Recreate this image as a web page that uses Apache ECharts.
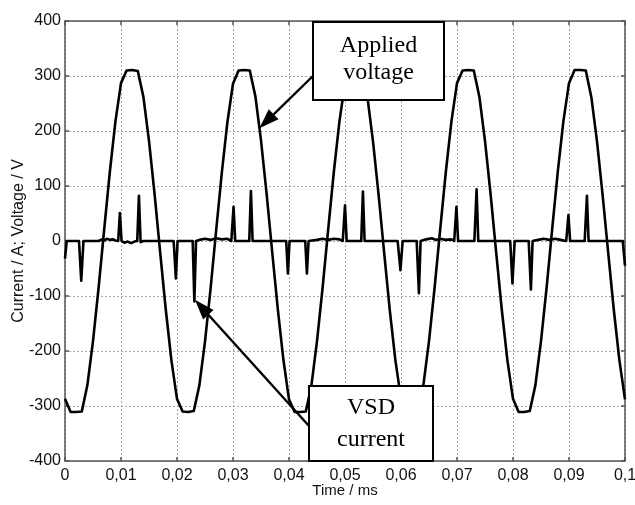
<!DOCTYPE html>
<html>
<head>
<meta charset="utf-8">
<script src="https://cdn.jsdelivr.net/npm/echarts@6/dist/echarts.min.js"></script>
<style>
  html, body { margin: 0; padding: 0; background: #fff; }
  #chart { width: 635px; height: 505px; }
</style>
</head>
<body>
<div id="chart"></div>
<script>
// Applied supply voltage, sampled every 0.001 ms
const voltTime = [
  0.000, 0.001, 0.002, 0.003, 0.004, 0.005, 0.006, 0.007, 0.008, 0.009,
  0.010, 0.011, 0.012, 0.013, 0.014, 0.015, 0.016, 0.017, 0.018, 0.019,
  0.020, 0.021, 0.022, 0.023, 0.024, 0.025, 0.026, 0.027, 0.028, 0.029,
  0.030, 0.031, 0.032, 0.033, 0.034, 0.035, 0.036, 0.037, 0.038, 0.039,
  0.040, 0.041, 0.042, 0.043, 0.044, 0.045, 0.046, 0.047, 0.048, 0.049,
  0.050, 0.051, 0.052, 0.053, 0.054, 0.055, 0.056, 0.057, 0.058, 0.059,
  0.060, 0.061, 0.062, 0.063, 0.064, 0.065, 0.066, 0.067, 0.068, 0.069,
  0.070, 0.071, 0.072, 0.073, 0.074, 0.075, 0.076, 0.077, 0.078, 0.079,
  0.080, 0.081, 0.082, 0.083, 0.084, 0.085, 0.086, 0.087, 0.088, 0.089,
  0.090, 0.091, 0.092, 0.093, 0.094, 0.095, 0.096, 0.097, 0.098, 0.099,
  0.100
];
const voltValue = [
  -287, -311, -311, -310, -262, -182, -85, 21, 125, 217,
   287,  310,  311,  309,  262,  182,  85, -21, -125, -217,
  -287, -310, -311, -309, -262, -183, -86, 20, 124, 216,
   286,  310,  311,  310,  263,  183,  86, -20, -124, -216,
  -288, -311, -311, -310, -263, -182, -85, 21, 125, 217,
   287,  311,  311,  309,  262,  181,  84, -22, -126, -217,
  -287, -310, -311, -310, -262, -182, -85, 21, 125, 217,
   287,  310,  311,  310,  262,  182,  85, -21, -125, -217,
  -287, -311, -311, -309, -262, -182, -85, 22, 126, 218,
   287,  311,  311,  310,  261,  181,  84, -21, -125, -217,
  -288
];

// Drive (VSD) input current with its charging pulses
const currTime = [
  0.0000, 0.0003,
  0.0025, 0.0029, 0.0033,
  0.0060, 0.0066, 0.0070, 0.0075, 0.0080, 0.0086, 0.0090,
  0.0095, 0.0098, 0.0101,
  0.0106, 0.0112, 0.0118, 0.0124, 0.0129,
  0.0132, 0.0135, 0.0140,
  0.0194, 0.0198, 0.0201,
  0.0228, 0.0231, 0.0234,
  0.0240, 0.0250, 0.0260, 0.0270, 0.0280, 0.0290, 0.0297,
  0.0301, 0.0304,
  0.0329, 0.0332, 0.0335,
  0.0395, 0.0398, 0.0401,
  0.0429, 0.0432, 0.0435,
  0.0450, 0.0460, 0.0470, 0.0480, 0.0490, 0.0496,
  0.0500, 0.0503,
  0.0529, 0.0532, 0.0535,
  0.0594, 0.0599, 0.0603,
  0.0628, 0.0632, 0.0635,
  0.0645, 0.0655, 0.0662, 0.0670, 0.0680, 0.0690, 0.0695,
  0.0699, 0.0702,
  0.0731, 0.0735, 0.0738,
  0.0795, 0.0799, 0.0803,
  0.0828, 0.0832, 0.0835,
  0.0845, 0.0855, 0.0865, 0.0875, 0.0885, 0.0895,
  0.0899, 0.0902,
  0.0928, 0.0932, 0.0935,
  0.0996, 0.1000
];
const currValue = [
  -32, 0,
  0, -72, 0,
  0, 3, 1, 4, 2, 3, 1,
  0, 51, 0,
  -3, -1, -4, -1, 0,
  82, -2, 0,
  0, -68, 0,
  0, -110, 0,
  2, 4, 2, 5, 3, 4, 0,
  62, 0,
  0, 91, 0,
  0, -59, 0,
  0, -59, 0,
  2, 4, 2, 4, 3, 0,
  65, 0,
  0, 90, 0,
  0, -53, 0,
  0, -95, 0,
  3, 5, 2, 4, 2, 3, 0,
  62, 0,
  0, 94, 0,
  0, -77, 0,
  0, -88, 0,
  2, 4, 2, 4, 2, 0,
  47, 0,
  0, 82, 0,
  0, -45
];

// Axis ranges and tick steps
const xRange = [0, 0.1];
const xStep = 0.01;
const yRange = [-400, 400];
const yStep = 100;

// Callout texts and the points they refer to
const voltLabel = ['Applied', 'voltage'];
const currLabel = ['VSD', 'current'];
const voltPointer = [0.0347, 205];
const currPointer = [0.0232, -107];

const pairs = (xs, ys) => xs.map((x, i) => [x, ys[i]]);
const fmtX = v => (Math.abs(v) < 1e-9 ? '0' : String(+v.toFixed(2)).replace('.', ','));

const FONT = "'Liberation Sans', Arial, sans-serif";
const SERIF = "'Liberation Serif', 'Times New Roman', serif";
const axisLineStyle = { color: '#555', width: 1.5 };
const gridStyle = { color: '#a8a8a8', width: 1, type: [2, 2] };

const chart = echarts.init(document.getElementById('chart'), null, { renderer: 'canvas' });

chart.setOption({
  animation: false,
  backgroundColor: '#fff',
  grid: { left: 65, right: 10, top: 21, bottom: 44, containLabel: false, outerBoundsMode: 'none' },
  xAxis: [
    {
      type: 'value', min: xRange[0], max: xRange[1], interval: xStep,
      position: 'bottom',
      name: 'Time / ms', nameLocation: 'middle', nameGap: 22, nameMoveOverlap: false,
      nameTextStyle: { color: '#111', fontFamily: FONT, fontSize: 15 },
      axisLine: { show: true, onZero: false, lineStyle: axisLineStyle },
      axisTick: { show: true, inside: true, length: 4, lineStyle: axisLineStyle },
      axisLabel: { color: '#111', fontFamily: FONT, fontSize: 16, margin: 7, formatter: fmtX, showMaxLabel: true, hideOverlap: false },
      splitLine: { show: true, lineStyle: gridStyle }
    },
    {
      type: 'value', min: xRange[0], max: xRange[1], interval: xStep,
      position: 'top',
      axisLine: { show: true, onZero: false, lineStyle: axisLineStyle },
      axisTick: { show: true, inside: true, length: 4, lineStyle: axisLineStyle },
      axisLabel: { show: false },
      splitLine: { show: false }
    }
  ],
  yAxis: [
    {
      type: 'value', min: yRange[0], max: yRange[1], interval: yStep,
      position: 'left',
      name: 'Current / A; Voltage / V', nameLocation: 'middle', nameGap: 38, nameRotate: 90, nameMoveOverlap: false,
      nameTextStyle: { color: '#111', fontFamily: FONT, fontSize: 16 },
      axisLine: { show: true, onZero: false, lineStyle: axisLineStyle },
      axisTick: { show: true, inside: true, length: 4, lineStyle: axisLineStyle },
      axisLabel: { color: '#111', fontFamily: FONT, fontSize: 16, margin: 4 },
      splitLine: { show: true, lineStyle: gridStyle }
    },
    {
      type: 'value', min: yRange[0], max: yRange[1], interval: yStep,
      position: 'right',
      axisLine: { show: true, onZero: false, lineStyle: axisLineStyle },
      axisTick: { show: true, inside: true, length: 4, lineStyle: axisLineStyle },
      axisLabel: { show: false },
      splitLine: { show: false }
    }
  ],
  series: [
    {
      name: 'Applied voltage', type: 'line', xAxisIndex: 0, yAxisIndex: 0,
      data: pairs(voltTime, voltValue),
      showSymbol: false, smooth: false,
      lineStyle: { color: '#000', width: 2.6, join: 'round' },
      z: 3
    },
    {
      name: 'VSD current', type: 'line', xAxisIndex: 0, yAxisIndex: 0,
      data: pairs(currTime, currValue),
      showSymbol: false, smooth: false,
      lineStyle: { color: '#000', width: 2.6, join: 'round' },
      z: 4
    }
  ]
});

// Callout boxes with arrows pointing at the traces
function arrow(from, to) {
  const dx = to[0] - from[0], dy = to[1] - from[1];
  const len = Math.hypot(dx, dy);
  const ux = dx / len, uy = dy / len;
  const headLen = 20, headHalf = 7;
  const bx = to[0] - ux * headLen, by = to[1] - uy * headLen;
  return [
    {
      type: 'line', z: 20,
      shape: { x1: from[0], y1: from[1], x2: bx, y2: by },
      style: { stroke: '#000', lineWidth: 2.4 }
    },
    {
      type: 'polygon', z: 20,
      shape: { points: [to, [bx - uy * headHalf, by + ux * headHalf], [bx + uy * headHalf, by - ux * headHalf]] },
      style: { fill: '#000' }
    }
  ];
}

function box(x, y, w, h, lines, lineYs) {
  const els = [{
    type: 'rect', z: 21,
    shape: { x: x, y: y, width: w, height: h },
    style: { fill: '#fff', stroke: '#000', lineWidth: 2 }
  }];
  lines.forEach((t, i) => {
    els.push({
      type: 'text', z: 22,
      style: {
        text: t, x: x + w / 2, y: lineYs[i],
        align: 'center', verticalAlign: 'middle',
        fill: '#000', font: '24px ' + SERIF
      }
    });
  });
  return els;
}

const vTip = chart.convertToPixel({ xAxisIndex: 0, yAxisIndex: 0 }, voltPointer);
const cTip = chart.convertToPixel({ xAxisIndex: 0, yAxisIndex: 0 }, currPointer);

chart.setOption({
  graphic: [].concat(
    arrow([313, 76], vTip),
    box(313, 22, 131, 78, voltLabel, [46, 73]),
    arrow([309, 426], cTip),
    box(309, 386, 124, 75, currLabel, [408, 440])
  )
});
</script>
</body>
</html>
